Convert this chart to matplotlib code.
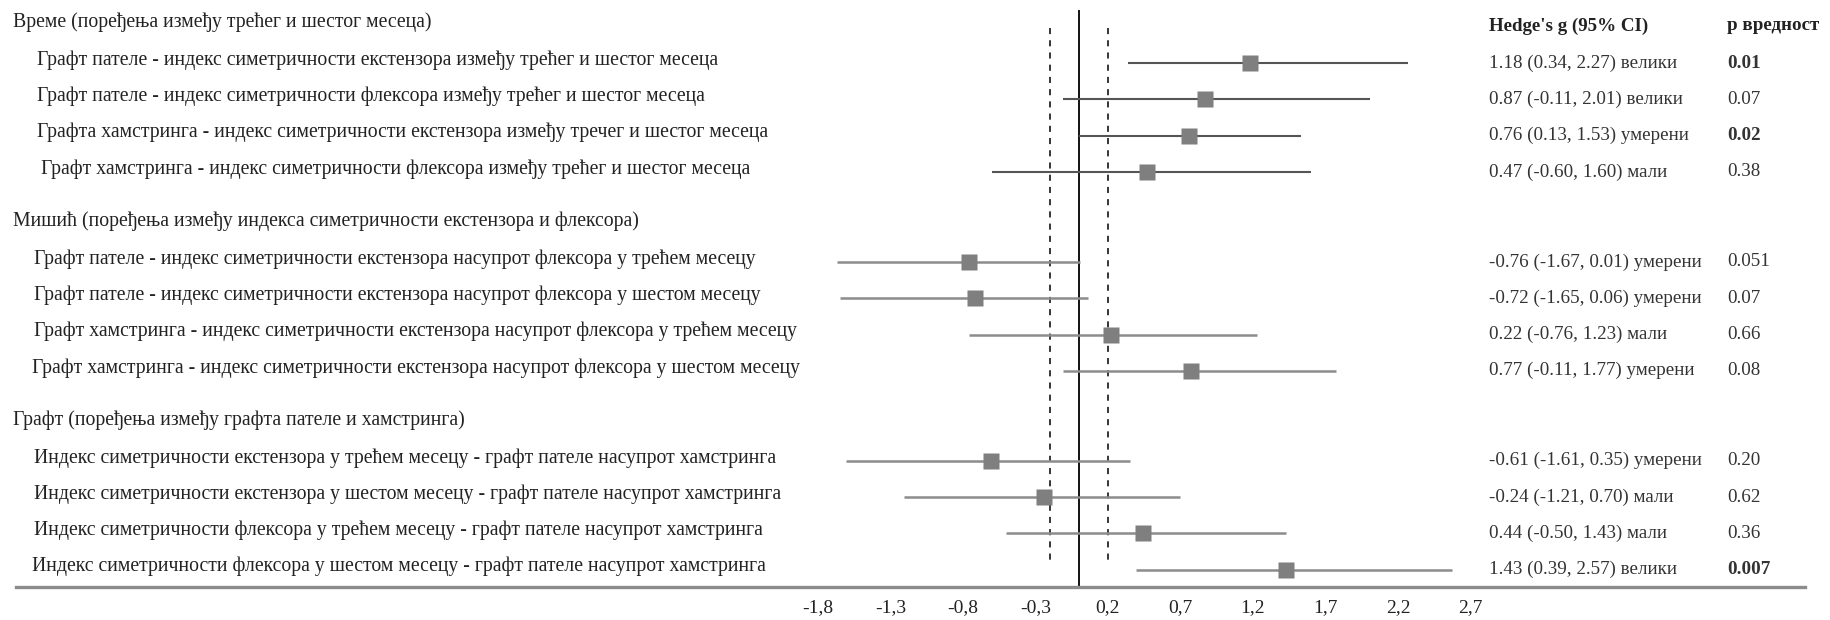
import matplotlib.pyplot as plt

W, H = 1831, 620
plt.rcParams['font.family'] = ['Liberation Serif', 'DejaVu Serif']

# --- data ---
sections = [
    "Време (поређења између трећег и шестог месеца)",
    "Мишић (поређења између индекса симетричности екстензора и флексора)",
    "Графт (поређења између графта пателе и хамстринга)",
]
labels = [
    "Графт пателе - индекс симетричности екстензора између трећег и шестог месеца",
    "Графт пателе - индекс симетричности флексора између трећег и шестог месеца",
    "Графта хамстринга - индекс симетричности екстензора између тречег и шестог месеца",
    "Графт хамстринга - индекс симетричности флексора између трећег и шестог месеца",
    "Графт пателе - индекс симетричности екстензора насупрот флексора у трећем месецу",
    "Графт пателе - индекс симетричности екстензора насупрот флексора у шестом месецу",
    "Графт хамстринга - индекс симетричности екстензора насупрот флексора у трећем месецу",
    "Графт хамстринга - индекс симетричности екстензора насупрот флексора у шестом месецу",
    "Индекс симетричности екстензора у трећем месецу - графт пателе насупрот хамстринга",
    "Индекс симетричности екстензора у шестом месецу - графт пателе насупрот хамстринга",
    "Индекс симетричности флексора у трећем месецу - графт пателе насупрот хамстринга",
    "Индекс симетричности флексора у шестом месецу - графт пателе насупрот хамстринга",
]
g = [1.18, 0.87, 0.76, 0.47, -0.76, -0.72, 0.22, 0.77, -0.61, -0.24, 0.44, 1.43]
lo = [0.34, -0.11, 0.0, -0.60, -1.67, -1.65, -0.76, -0.11, -1.61, -1.21, -0.50, 0.39]
hi = [2.27, 2.01, 1.53, 1.60, 0.01, 0.06, 1.23, 1.77, 0.35, 0.70, 1.43, 2.57]
hedge_text = [
    "1.18 (0.34, 2.27) велики",
    "0.87 (-0.11, 2.01) велики",
    "0.76 (0.13, 1.53) умерени",
    "0.47 (-0.60, 1.60) мали",
    "-0.76 (-1.67, 0.01) умерени",
    "-0.72 (-1.65, 0.06) умерени",
    "0.22 (-0.76, 1.23) мали",
    "0.77 (-0.11, 1.77) умерени",
    "-0.61 (-1.61, 0.35) умерени",
    "-0.24 (-1.21, 0.70) мали",
    "0.44 (-0.50, 1.43) мали",
    "1.43 (0.39, 2.57) велики",
]
p_text = ["0.01", "0.07", "0.02", "0.38", "0.051", "0.07", "0.66", "0.08",
          "0.20", "0.62", "0.36", "0.007"]
p_bold = [True, False, True, False, False, False, False, False,
          False, False, False, True]
ticks = [-1.8, -1.3, -0.8, -0.3, 0.2, 0.7, 1.2, 1.7, 2.2, 2.7]
tick_labels = [f"{t:.1f}".replace(".", ",") for t in ticks]

# --- layout (pixels) ---
zero_px, unit_px = 1079, 145
axis_y = 587
row_step = 36.3
sec_gap = 90
first_row = 63
indent = [37, 37, 37, 41, 34, 34, 34, 32, 34, 34, 34, 32]

fig = plt.figure(figsize=(W / 100, H / 100), dpi=100)
ax = fig.add_axes([0, (H - axis_y) / H, 1, axis_y / H])
ax.set_xlim(-zero_px / unit_px, (W - zero_px) / unit_px)
ax.set_ylim(axis_y, 0)

row_y = []
for i in range(len(labels)):
    s, r = divmod(i, 4)
    row_y.append(first_row + s * (3 * row_step + sec_gap) + r * row_step)

# reference lines
ax.vlines(0, 10, axis_y, color='black', lw=1.3)
ax.vlines([-0.2, 0.2], 28, 565, color='black', lw=1.1, linestyles=(0, (4, 4)))

for i in range(len(labels)):
    col = '#555555' if i < 4 else '#8c8c8c'
    ax.hlines(row_y[i], lo[i], hi[i], color=col, lw=1.5 if i < 4 else 1.8)
    ax.plot(g[i], row_y[i], marker='s', ms=12, color='#7f7f7f', mec='none')

for sp in ['top', 'left', 'right']:
    ax.spines[sp].set_visible(False)
ax.spines['bottom'].set_color('#8c8c8c')
ax.spines['bottom'].set_linewidth(2.4)
ax.spines['bottom'].set_bounds((16 - zero_px) / unit_px, (1805 - zero_px) / unit_px)
ax.set_yticks([])
ax.set_xticks(ticks, tick_labels)
ax.tick_params(axis='x', length=0, pad=9, labelsize=14, labelcolor='#222222')

# text columns
fs = 14.2
fs_col = 13.7
def fx(px):
    return px / W

def fy(py):
    return 1 - py / H

for s, name in enumerate(sections):
    y0 = first_row + s * (3 * row_step + sec_gap)
    fig.text(fx(13), fy(y0 - 41), name, fontsize=fs, color='#222222', va='center')

fig.text(fx(1489), fy(26), "Hedge's g (95% CI)", fontsize=fs_col, fontweight='bold',
         color='#222222', va='center')
fig.text(fx(1727), fy(26), "p вредност", fontsize=fs_col, fontweight='bold',
         color='#222222', va='center')

for i in range(len(labels)):
    fig.text(fx(indent[i]), fy(row_y[i] - 3), labels[i], fontsize=fs,
             color='#222222', va='center')
    fig.text(fx(1489), fy(row_y[i]), hedge_text[i], fontsize=fs_col,
             color='#333333', va='center')
    fig.text(fx(1727), fy(row_y[i]), p_text[i], fontsize=fs_col, color='#333333',
             va='center', fontweight='bold' if p_bold[i] else 'normal')

fig.savefig('out.png', dpi=100)
